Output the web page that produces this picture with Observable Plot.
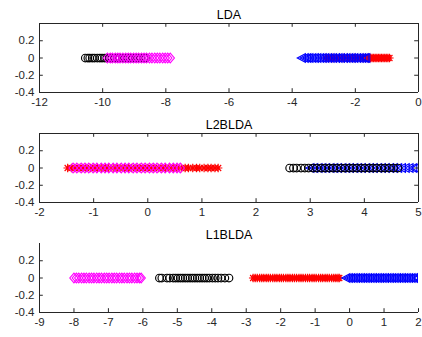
<!DOCTYPE html>
<html>
<head>
<meta charset="utf-8">
<script src="https://cdn.jsdelivr.net/npm/d3@7"></script>
<script src="https://cdn.jsdelivr.net/npm/@observablehq/plot@0.6"></script>
<style>
  html, body { margin: 0; padding: 0; background: #fff; }
  #chart svg { display: block; }
</style>
</head>
<body>
<div id="chart"></div>
<script>
// ---- Data (1-D projections, all plotted at y = 0) ----
const titles = ["LDA", "L2BLDA", "L1BLDA"];
const yTicks = [-0.4, -0.2, 0, 0.2];

const ldaXTicks = [-12, -10, -8, -6, -4, -2, 0];
const lda_black = [-10.55,-10.47,-10.41,-10.33,-10.26,-10.17,-10.09,-10.02,-9.94,-9.87,-9.78,-9.70,-9.61,-9.54,-9.46,-9.37,-9.29,-9.20,-9.13,-9.04,-8.95,-8.87,-8.78,-8.69,-8.62];
const lda_magenta = [-9.85,-9.76,-9.69,-9.60,-9.52,-9.45,-9.36,-9.27,-9.19,-9.11,-9.02,-8.94,-8.86,-8.77,-8.69,-8.61,-8.52,-8.44,-8.35,-8.27,-8.19,-8.10,-8.02,-7.94,-7.86];
const lda_blue = [-3.70,-3.61,-3.53,-3.46,-3.37,-3.29,-3.21,-3.12,-3.04,-2.96,-2.87,-2.79,-2.71,-2.62,-2.54,-2.46,-2.37,-2.29,-2.20,-2.12,-2.04,-1.95,-1.87,-1.79,-1.71,-1.66];
const lda_red = [-2.94,-2.83,-2.72,-2.61,-2.49,-2.37,-2.26,-2.14,-2.03,-1.93,-1.83,-1.75,-1.68,-1.62,-1.57,-1.52,-1.47,-1.42,-1.37,-1.32,-1.27,-1.22,-1.17,-1.12,-1.07,-1.02,-0.97,-0.92];

const l2XTicks = [-2, -1, 0, 1, 2, 3, 4, 5];
const l2_red = [-1.48,-1.41,-1.35,-1.27,-1.20,-1.14,-1.06,-0.99,-0.93,-0.85,-0.78,-0.72,-0.64,-0.57,-0.51,-0.43,-0.36,-0.30,-0.22,-0.15,-0.09,-0.01,0.06,0.12,0.20,0.27,0.33,0.41,0.48,0.54,0.62,0.69,0.75,0.83,0.90,0.96,1.04,1.11,1.17,1.24,1.30];
const l2_magenta = [-1.38,-1.31,-1.23,-1.16,-1.09,-1.01,-0.94,-0.86,-0.79,-0.72,-0.64,-0.57,-0.49,-0.42,-0.35,-0.27,-0.20,-0.12,-0.05,0.03,0.10,0.17,0.25,0.32,0.40,0.47,0.54,0.60];
const l2_black = [2.62,2.69,2.75,2.83,2.90,2.97,3.05,3.12,3.20,3.27,3.35,3.42,3.49,3.57,3.64,3.72,3.79,3.86,3.94,4.01,4.09,4.16,4.23,4.31,4.38,4.46,4.54,4.62];
const l2_blue = [3.00,3.07,3.15,3.22,3.29,3.37,3.44,3.51,3.59,3.66,3.73,3.81,3.88,3.95,4.03,4.10,4.17,4.25,4.32,4.39,4.47,4.54,4.62,4.69,4.76,4.83,4.90,4.95];

const l1XTicks = [-9, -8, -7, -6, -5, -4, -3, -2, -1, 0, 1, 2];
const l1_magenta = [-8.00,-7.93,-7.86,-7.78,-7.71,-7.64,-7.56,-7.49,-7.42,-7.34,-7.27,-7.20,-7.12,-7.05,-6.98,-6.90,-6.83,-6.76,-6.68,-6.61,-6.54,-6.46,-6.39,-6.32,-6.24,-6.17,-6.10,-6.05];
const l1_black = [-5.52,-5.45,-5.30,-5.22,-5.12,-5.05,-4.98,-4.91,-4.84,-4.77,-4.70,-4.63,-4.56,-4.49,-4.42,-4.35,-4.28,-4.21,-4.14,-4.07,-3.98,-3.90,-3.82,-3.73,-3.62,-3.50];
const l1_red = [-2.80,-2.74,-2.68,-2.61,-2.55,-2.49,-2.42,-2.36,-2.30,-2.23,-2.17,-2.11,-2.04,-1.98,-1.92,-1.85,-1.79,-1.73,-1.66,-1.60,-1.54,-1.47,-1.41,-1.35,-1.28,-1.22,-1.16,-1.09,-1.03,-0.97,-0.90,-0.84,-0.78,-0.71,-0.65,-0.59,-0.52,-0.46,-0.40,-0.34,-0.30];
const l1_blue = [-0.10,-0.03,0.04,0.11,0.18,0.25,0.32,0.39,0.46,0.53,0.60,0.67,0.74,0.81,0.88,0.95,1.02,1.09,1.16,1.23,1.30,1.37,1.44,1.51,1.58,1.65,1.72,1.79,1.86,1.93,1.98];

// ---- MATLAB-like marker symbols ----
const rad = size => Math.sqrt(size / Math.PI);
const symLeftTri = { draw(c, size) { const s = rad(size) * 1.15; c.moveTo(-s, 0); c.lineTo(s * 0.85, -s); c.lineTo(s * 0.85, s); c.closePath(); } };
const symAsterisk = { draw(c, size) { const s = rad(size) * 1.1; const d = s * 0.72;
  c.moveTo(-s, 0); c.lineTo(s, 0); c.moveTo(0, -s); c.lineTo(0, s);
  c.moveTo(-d, -d); c.lineTo(d, d); c.moveTo(-d, d); c.lineTo(d, -d); } };
const symDiamond = { draw(c, size) { const s = rad(size) * 1.25; c.moveTo(0, -s); c.lineTo(s * 0.85, 0); c.lineTo(0, s); c.lineTo(-s * 0.85, 0); c.closePath(); } };

const axisColor = "#262626";

function panel({title, xDomain, xTicks, series, box, height, marginBottom}) {
  const [x0, x1] = xDomain;
  const tx = (x1 - x0) * 3.8 / 379; // inward tick length in x units
  const ty = 0.8 * 3.8 / 69;        // inward tick length in y units
  const marks = [];
  for (const s of series) {
    marks.push(Plot.dot(s.values, {x: d => d, y: () => 0, symbol: s.symbol, r: s.r, stroke: s.color, fill: "none", strokeWidth: 1.15, clip: true}));
  }
  marks.push(
    Plot.ruleY([-0.4], {stroke: axisColor, strokeWidth: 1}),
    Plot.ruleX([x0], {stroke: axisColor, strokeWidth: 1}),
    Plot.ruleX(xTicks, {x: d => d, y1: -0.4, y2: -0.4 + ty, stroke: axisColor}),
    Plot.ruleY(yTicks, {y: d => d, x1: x0, x2: x0 + tx, stroke: axisColor}),
    Plot.text([title], {text: d => d, frameAnchor: "top", dy: -5, lineAnchor: "bottom", fontSize: 12.5, fill: "#000"})
  );
  if (box) {
    marks.push(
      Plot.ruleY([0.4], {stroke: axisColor, strokeWidth: 1}),
      Plot.ruleX([x1], {stroke: axisColor, strokeWidth: 1}),
      Plot.ruleX(xTicks, {x: d => d, y1: 0.4, y2: 0.4 - ty, stroke: axisColor}),
      Plot.ruleY(yTicks, {y: d => d, x1: x1, x2: x1 - tx, stroke: axisColor})
    );
  }
  return Plot.plot({
    width: 422,
    height,
    marginLeft: 39,
    marginRight: 4,
    marginTop: 23,
    marginBottom,
    style: {fontFamily: "'Liberation Sans', Arial, sans-serif", fontSize: "11.5px", color: axisColor, background: "#fff", overflow: "visible"},
    x: {domain: xDomain, ticks: xTicks, tickSize: 0, tickPadding: 5, tickFormat: d => String(d), label: null},
    y: {domain: [-0.4, 0.4], ticks: yTicks, tickSize: 0, tickPadding: 5, tickFormat: d => String(d), label: null},
    marks
  });
}

const chart = document.getElementById("chart");
chart.append(panel({
  title: titles[0], xDomain: [-12, 0], xTicks: ldaXTicks, box: true, height: 110, marginBottom: 18,
  series: [
    {values: lda_red, color: "#ff0000", symbol: symAsterisk, r: 3.8},
    {values: lda_blue, color: "#0000ff", symbol: symLeftTri, r: 3.8},
    {values: lda_black, color: "#000000", symbol: "circle", r: 3.8},
    {values: lda_magenta, color: "#ff00ff", symbol: symDiamond, r: 3.9}
  ]
}));
chart.append(panel({
  title: titles[1], xDomain: [-2, 5], xTicks: l2XTicks, box: true, height: 110, marginBottom: 18,
  series: [
    {values: l2_red, color: "#ff0000", symbol: symAsterisk, r: 3.8},
    {values: l2_blue, color: "#0000ff", symbol: symLeftTri, r: 3.8},
    {values: l2_black, color: "#000000", symbol: "circle", r: 3.8},
    {values: l2_magenta, color: "#ff00ff", symbol: symDiamond, r: 3.9}
  ]
}));
chart.append(panel({
  title: titles[2], xDomain: [-9, 2], xTicks: l1XTicks, box: false, height: 117, marginBottom: 25,
  series: [
    {values: l1_red, color: "#ff0000", symbol: symAsterisk, r: 3.8},
    {values: l1_blue, color: "#0000ff", symbol: symLeftTri, r: 3.8},
    {values: l1_black, color: "#000000", symbol: "circle", r: 3.8},
    {values: l1_magenta, color: "#ff00ff", symbol: symDiamond, r: 3.9}
  ]
}));
</script>
</body>
</html>
